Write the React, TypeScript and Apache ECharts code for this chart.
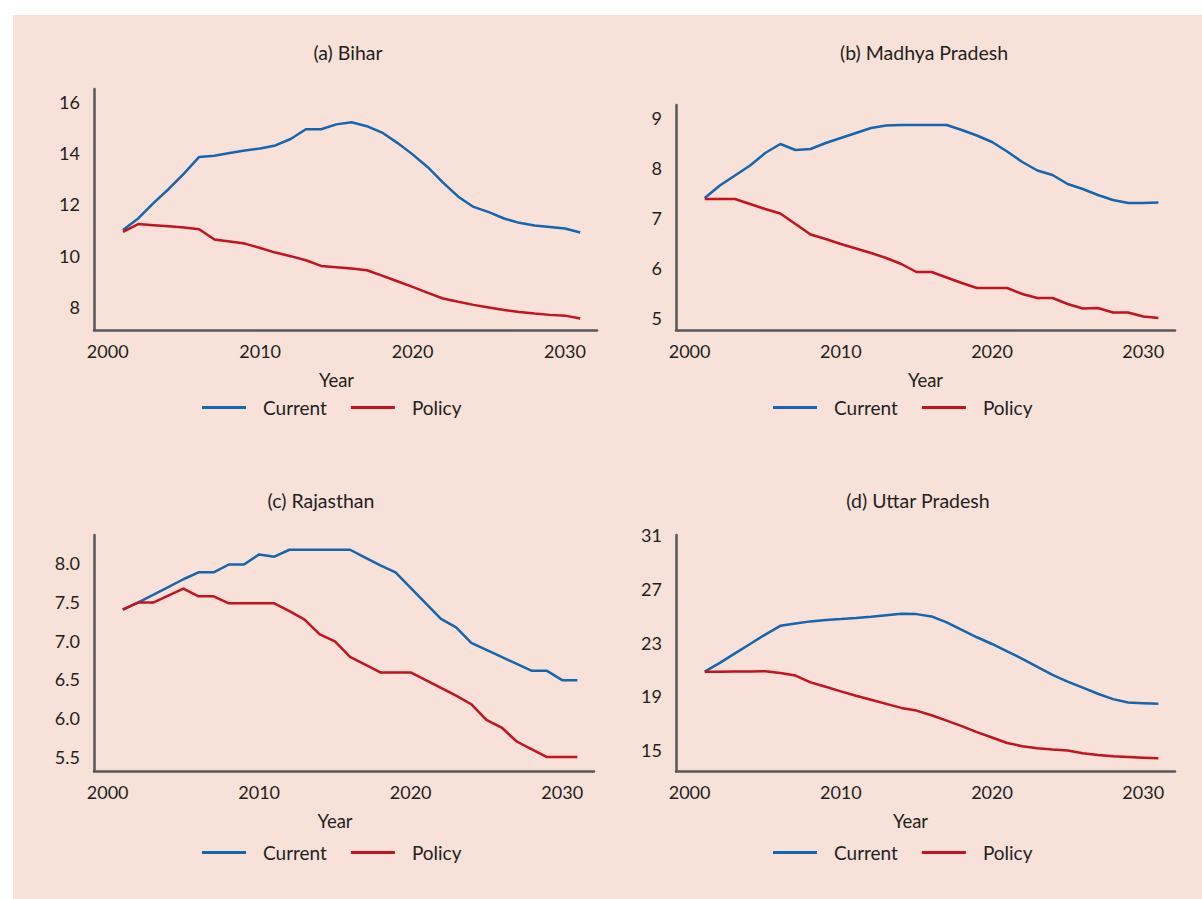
import React, { useEffect, useRef } from "react";
import * as echarts from "echarts";

const years = [2001, 2002, 2003, 2004, 2005, 2006, 2007, 2008, 2009, 2010, 2011, 2012, 2013, 2014, 2015, 2016, 2017, 2018, 2019, 2020, 2021, 2022, 2023, 2024, 2025, 2026, 2027, 2028, 2029, 2030, 2031];

const xTicks = [2000, 2010, 2020, 2030];

const panelTitles = ["(a) Bihar", "(b) Madhya Pradesh", "(c) Rajasthan", "(d) Uttar Pradesh"];
const legendNames = ["Current", "Policy"];

// (a) Bihar
const biharCurrent = [11.0, 11.45, 12.05, 12.6, 13.2, 13.85, 13.9, 14.0, 14.1, 14.18, 14.3, 14.55, 14.93, 14.93, 15.12, 15.2, 15.05, 14.8, 14.4, 13.95, 13.45, 12.85, 12.3, 11.9, 11.7, 11.45, 11.28, 11.18, 11.12, 11.06, 10.9];
const biharPolicy = [10.93, 11.23, 11.19, 11.15, 11.1, 11.03, 10.63, 10.55, 10.47, 10.3, 10.12, 9.98, 9.82, 9.6, 9.55, 9.5, 9.43, 9.22, 9.0, 8.78, 8.55, 8.33, 8.2, 8.08, 7.98, 7.88, 7.8, 7.74, 7.69, 7.66, 7.55];
const biharTicks = [8, 10, 12, 14, 16];

// (b) Madhya Pradesh
const mpCurrent = [7.4, 7.65, 7.85, 8.05, 8.3, 8.48, 8.36, 8.38, 8.5, 8.6, 8.7, 8.8, 8.85, 8.86, 8.86, 8.86, 8.86, 8.76, 8.65, 8.52, 8.33, 8.12, 7.95, 7.86, 7.68, 7.58, 7.46, 7.36, 7.3, 7.3, 7.31];
const mpPolicy = [7.38, 7.38, 7.38, 7.28, 7.18, 7.09, 6.88, 6.67, 6.58, 6.48, 6.39, 6.3, 6.2, 6.08, 5.92, 5.92, 5.81, 5.7, 5.6, 5.6, 5.6, 5.48, 5.4, 5.4, 5.28, 5.19, 5.2, 5.11, 5.11, 5.03, 5.0];
const mpTicks = [5, 6, 7, 8, 9];

// (c) Rajasthan
const rajCurrent = [7.4, 7.49, 7.59, 7.69, 7.79, 7.88, 7.88, 7.98, 7.98, 8.11, 8.08, 8.17, 8.17, 8.17, 8.17, 8.17, 8.07, 7.97, 7.88, 7.68, 7.48, 7.28, 7.17, 6.97, 6.88, 6.79, 6.7, 6.61, 6.61, 6.49, 6.49];
const rajPolicy = [7.4, 7.49, 7.49, 7.58, 7.67, 7.57, 7.57, 7.48, 7.48, 7.48, 7.48, 7.38, 7.27, 7.08, 6.99, 6.79, 6.69, 6.59, 6.59, 6.59, 6.49, 6.39, 6.29, 6.18, 5.98, 5.88, 5.7, 5.6, 5.5, 5.5, 5.5];
const rajTicks = [5.5, 6.0, 6.5, 7.0, 7.5, 8.0];

// (d) Uttar Pradesh
const upCurrent = [20.85, 21.5, 22.2, 22.9, 23.6, 24.25, 24.42, 24.58, 24.68, 24.75, 24.83, 24.92, 25.03, 25.14, 25.12, 24.95, 24.5, 23.95, 23.4, 22.9, 22.35, 21.8, 21.2, 20.6, 20.1, 19.65, 19.2, 18.8, 18.55, 18.5, 18.45];
const upPolicy = [20.83, 20.84, 20.85, 20.86, 20.88, 20.75, 20.55, 20.05, 19.72, 19.38, 19.05, 18.75, 18.45, 18.15, 17.95, 17.6, 17.2, 16.8, 16.35, 15.95, 15.54, 15.3, 15.15, 15.05, 14.98, 14.78, 14.65, 14.55, 14.5, 14.45, 14.4];
const upTicks = [15, 19, 23, 27, 31];

const FONT = "Lato, 'Open Sans', sans-serif";
const TEXT = "#231f20";
const AXIS = "#5b5758";
const BLUE = "#1565b0";
const RED = "#c4121f";

export default function App() {
  const ref = useRef<HTMLDivElement>(null);

  useEffect(() => {
    if (!ref.current) return;
    const chart = echarts.init(ref.current, undefined, { renderer: "svg" });

    const panels = [
      { cur: biharCurrent, pol: biharPolicy, ticks: biharTicks, min: 7.1, max: 16.5, dec: 0, grid: { left: 94, top: 89, width: 503, height: 241 }, title: [348, 52], yearPad: 18, legend: [202, 398] },
      { cur: mpCurrent, pol: mpPolicy, ticks: mpTicks, min: 4.76, max: 9.26, dec: 0, grid: { left: 676, top: 105, width: 499, height: 225 }, title: [924, 52], yearPad: 0, legend: [773, 398] },
      { cur: rajCurrent, pol: rajPolicy, ticks: rajTicks, min: 5.32, max: 8.36, dec: 1, grid: { left: 94, top: 535, width: 500, height: 236 }, title: [321, 500], yearPad: 18, legend: [202, 843] },
      { cur: upCurrent, pol: upPolicy, ticks: upTicks, min: 13.46, max: 31, dec: 0, grid: { left: 676, top: 535, width: 499, height: 236 }, title: [918, 500], yearPad: 30, legend: [773, 843] },
    ];

    const grids: any[] = [];
    const xAxes: any[] = [];
    const yAxes: any[] = [];
    const series: any[] = [];
    const legends: any[] = [];
    const graphics: any[] = [];

    panels.forEach((p, i) => {
      grids.push({ ...p.grid, containLabel: false });
      xAxes.push({
        type: "value",
        gridIndex: i,
        min: 1999.1,
        max: 2032.1,
        axisLine: { show: true, onZero: false, lineStyle: { color: AXIS, width: 2.5 } },
        axisTick: { show: false },
        splitLine: { show: false },
        axisLabel: {
          customValues: xTicks,
          fontSize: 18,
          color: TEXT,
          fontFamily: FONT,
          margin: 12,
          formatter: (v: number) => String(Math.round(v)),
        },
        name: "Year",
        nameLocation: "middle",
        nameGap: 40,
        nameTextStyle: { fontSize: 18.5, color: TEXT, fontFamily: FONT, padding: [0, p.yearPad, 0, 0] },
      });
      yAxes.push({
        type: "value",
        gridIndex: i,
        min: p.min,
        max: p.max,
        axisLine: { show: true, lineStyle: { color: AXIS, width: 2.5 } },
        axisTick: { show: false },
        splitLine: { show: false },
        axisLabel: {
          customValues: p.ticks,
          fontSize: 18,
          color: TEXT,
          fontFamily: FONT,
          margin: 14,
          formatter: (v: number) => (p.dec ? v.toFixed(p.dec) : String(v)),
        },
      });
      series.push({
        name: "Current",
        type: "line",
        xAxisIndex: i,
        yAxisIndex: i,
        symbol: "none",
        showSymbol: false,
        lineStyle: { color: BLUE, width: 2.5 },
        itemStyle: { color: BLUE },
        data: years.map((y, k) => [y, p.cur[k]]),
      });
      series.push({
        name: "Policy",
        type: "line",
        xAxisIndex: i,
        yAxisIndex: i,
        symbol: "none",
        showSymbol: false,
        lineStyle: { color: RED, width: 2.5 },
        itemStyle: { color: RED },
        data: years.map((y, k) => [y, p.pol[k]]),
      });
      legends.push({
        left: p.legend[0],
        top: p.legend[1],
        padding: 0,
        data: legendNames,
        icon: "rect",
        itemWidth: 44,
        itemHeight: 3,
        itemGap: 24,
        selectedMode: false,
        textStyle: { fontSize: 19, color: TEXT, fontFamily: FONT, padding: [0, 0, 0, 12] },
      });
      graphics.push({
        type: "text",
        x: p.title[0],
        y: p.title[1],
        style: {
          text: panelTitles[i],
          fontSize: 19.5,
          fontFamily: FONT,
          fill: TEXT,
          textAlign: "center",
          textVerticalAlign: "middle",
        },
      });
    });

    chart.setOption({
      animation: false,
      backgroundColor: "transparent",
      grid: grids,
      xAxis: xAxes,
      yAxis: yAxes,
      series,
      legend: legends,
      graphic: graphics,
    });

    return () => chart.dispose();
  }, []);

  return (
    <div style={{ position: "fixed", left: 0, top: 0, width: 1202, height: 899, background: "#ffffff" }}>
      <div style={{ position: "absolute", left: 13, top: 15, width: 1189, height: 884, background: "#f7e1d8" }} />
      <div ref={ref} style={{ position: "absolute", left: 0, top: 0, width: 1202, height: 899 }} />
    </div>
  );
}
